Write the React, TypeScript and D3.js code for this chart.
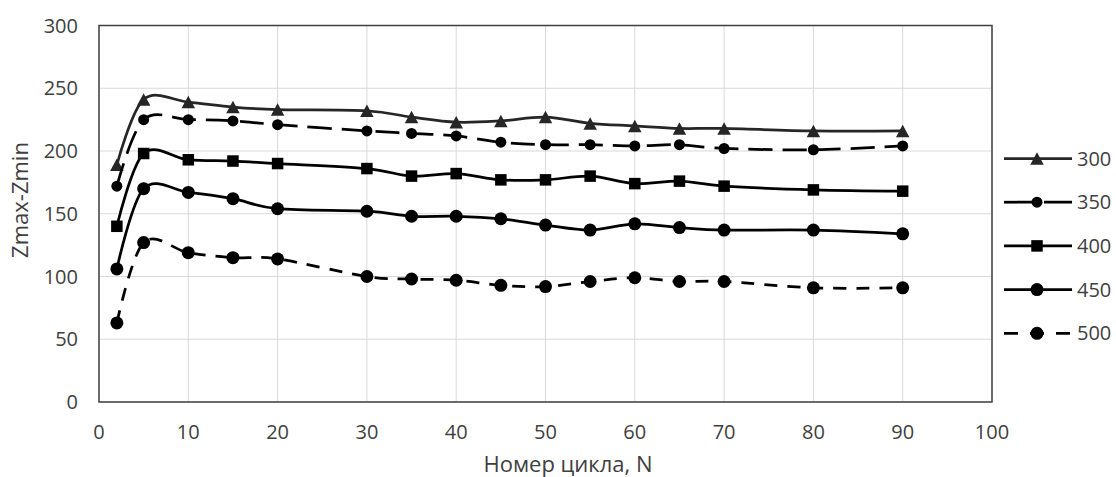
import React from "react";
import * as d3 from "d3";

// Cycle numbers (x) and Zmax-Zmin values for each series
const cycles = [2, 5, 10, 15, 20, 30, 35, 40, 45, 50, 55, 60, 65, 70, 80, 90];
const s300 = [189, 241, 239, 235, 233, 232, 227, 223, 224, 227, 222, 220, 218, 218, 216, 216];
const s350 = [172, 225, 225, 224, 221, 216, 214, 212, 207, 205, 205, 204, 205, 202, 201, 204];
const s400 = [140, 198, 193, 192, 190, 186, 180, 182, 177, 177, 180, 174, 176, 172, 169, 168];
const s450 = [106, 170, 167, 162, 154, 152, 148, 148, 146, 141, 137, 142, 139, 137, 137, 134];
const s500 = [63, 127, 119, 115, 114, 100, 98, 97, 93, 92, 96, 99, 96, 96, 91, 91];

const xTicks = [0, 10, 20, 30, 40, 50, 60, 70, 80, 90, 100];
const yTicks = [0, 50, 100, 150, 200, 250, 300];

const seriesNames = ["300", "350", "400", "450", "500"];

type Marker = "triangle" | "circleSmall" | "square" | "circle";
interface SeriesDef {
  name: string;
  values: number[];
  marker: Marker;
  dash: string | null;
  legendDash: string | null;
  color: string;
}

const series: SeriesDef[] = [
  { name: seriesNames[0], values: s300, marker: "triangle", dash: null, legendDash: null, color: "#262626" },
  { name: seriesNames[1], values: s350, marker: "circleSmall", dash: "24 10", legendDash: "28 12", color: "#000000" },
  { name: seriesNames[2], values: s400, marker: "square", dash: null, legendDash: null, color: "#000000" },
  { name: seriesNames[3], values: s450, marker: "circle", dash: null, legendDash: null, color: "#000000" },
  { name: seriesNames[4], values: s500, marker: "circle", dash: "13 10", legendDash: "14 12", color: "#000000" },
];

const W = 1116;
const H = 477;
const plot = { left: 99, right: 992, top: 25.5, bottom: 402 };
const FONT = "'Open Sans', 'Noto Sans', sans-serif";
const TEXT = "#404040";
const TICK_SIZE = 20;
const TITLE_SIZE = 22;

function MarkerShape({ type, x, y, color }: { type: Marker; x: number; y: number; color: string }) {
  if (type === "triangle") {
    const s = 13.5;
    const h = 12.5;
    const pts = `${x},${y - h / 2} ${x + s / 2},${y + h / 2} ${x - s / 2},${y + h / 2}`;
    return <polygon points={pts} fill={color} />;
  }
  if (type === "square") {
    const s = 11.5;
    return <rect x={x - s / 2} y={y - s / 2} width={s} height={s} fill={color} />;
  }
  if (type === "circleSmall") {
    return <circle cx={x} cy={y} r={5.5} fill={color} />;
  }
  return <circle cx={x} cy={y} r={6.5} fill={color} />;
}

export default function App() {
  const x = d3.scaleLinear().domain([0, 100]).range([plot.left, plot.right]);
  const y = d3.scaleLinear().domain([0, 300]).range([plot.bottom, plot.top]);

  const line = d3
    .line<[number, number]>()
    .x((d) => x(d[0]))
    .y((d) => y(d[1]))
    .curve(d3.curveCardinal.tension(0));

  const legendX0 = 1004;
  const legendX1 = 1072;
  const legendMid = 1037;
  const legendY0 = 158.5;
  const legendStep = 43.7;

  return (
    <div style={{ position: "absolute", left: 0, top: 0 }}>
      <svg width={W} height={H} style={{ display: "block", background: "#fff" }}>
        {/* gridlines */}
        <g stroke="#d9d9d9" strokeWidth={1}>
          {yTicks.map((t) => (
            <line key={"gy" + t} x1={plot.left} x2={plot.right} y1={y(t)} y2={y(t)} />
          ))}
          {xTicks.map((t) => (
            <line key={"gx" + t} x1={x(t)} x2={x(t)} y1={plot.top} y2={plot.bottom} />
          ))}
        </g>
        {/* plot frame */}
        <rect
          x={plot.left}
          y={plot.top}
          width={plot.right - plot.left}
          height={plot.bottom - plot.top}
          fill="none"
          stroke="#404040"
          strokeWidth={1.5}
        />
        {/* y tick labels */}
        <g fontFamily={FONT} fontSize={TICK_SIZE} fill={TEXT} textAnchor="end">
          {yTicks.map((t) => (
            <text key={"ty" + t} x={78} y={y(t) + 7.1}>
              {t}
            </text>
          ))}
        </g>
        {/* x tick labels */}
        <g fontFamily={FONT} fontSize={TICK_SIZE} fill={TEXT} textAnchor="middle">
          {xTicks.map((t) => (
            <text key={"tx" + t} x={x(t)} y={439}>
              {t}
            </text>
          ))}
        </g>
        {/* axis titles */}
        <text
          x={568}
          y={472}
          fontFamily={FONT}
          fontSize={TITLE_SIZE}
          fill={TEXT}
          textAnchor="middle"
        >
          Номер цикла, N
        </text>
        <text
          transform={`translate(28,200) rotate(-90)`}
          fontFamily={FONT}
          fontSize={TITLE_SIZE}
          fill={TEXT}
          textAnchor="middle"
        >
          Zmax-Zmin
        </text>
        {/* series */}
        {series.map((s) => {
          const pts: [number, number][] = cycles.map((c, i) => [c, s.values[i]]);
          return (
            <g key={s.name}>
              <path
                d={line(pts) || ""}
                fill="none"
                stroke={s.color}
                strokeWidth={2.75}
                strokeDasharray={s.dash || undefined}
                strokeLinejoin="round"
              />
              {pts.map((p, i) => (
                <MarkerShape key={i} type={s.marker} x={x(p[0])} y={y(p[1])} color={s.color} />
              ))}
            </g>
          );
        })}
        {/* legend */}
        {series.map((s, i) => {
          const ly = legendY0 + i * legendStep;
          return (
            <g key={"lg" + s.name}>
              <line
                x1={legendX0}
                x2={legendX1}
                y1={ly}
                y2={ly}
                stroke={s.color}
                strokeWidth={2.75}
                strokeDasharray={s.legendDash || undefined}
              />
              <MarkerShape type={s.marker} x={legendMid} y={ly} color={s.color} />
              <text x={1077} y={ly + 7.1} fontFamily={FONT} fontSize={TICK_SIZE} fill={TEXT}>
                {s.name}
              </text>
            </g>
          );
        })}
      </svg>
    </div>
  );
}
